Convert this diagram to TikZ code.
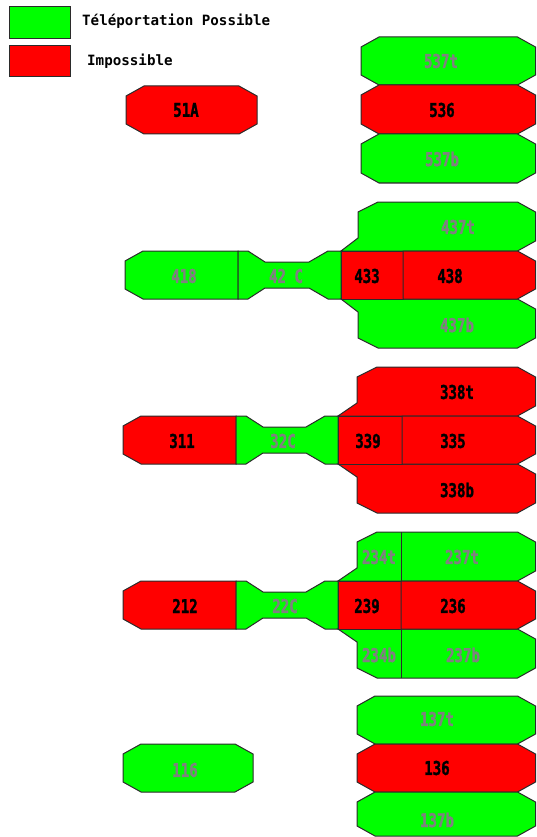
\documentclass[tikz,border=0pt]{standalone}
\usepackage{fontspec}
\newfontfamily\legfont{DejaVu Sans Mono}
\newfontfamily\lcdfont{DejaVu Sans Mono}[FakeStretch=0.74,BoldFeatures={FakeBold=1.5}]
\definecolor{gfill}{HTML}{00FF00}
\definecolor{rfill}{HTML}{FF0000}
\definecolor{edgec}{HTML}{2B2B2B}
\definecolor{gtext}{HTML}{808080}
\tikzset{
  gz/.style={fill=gfill,draw=edgec,line width=1pt},
  rz/.style={fill=rfill,draw=edgec,line width=1pt},
  lbl/.style={font=\lcdfont\bfseries\fontsize{19}{19}\selectfont,inner sep=0pt},
  gl/.style={lbl,text=gtext},
  rl/.style={lbl,text=black},
  leg/.style={font=\legfont\bfseries\fontsize{14.2}{14.2}\selectfont,anchor=base west,inner sep=0pt},
  divider/.style={draw=edgec,line width=1pt}
}
% octagon: style, x1, y1, x2, y2
\newcommand\octo[5]{\path[#1] (#2+18,#3) -- (#4-18,#3) -- (#4,#3+10) -- (#4,#5-10) -- (#4-18,#5) -- (#2+18,#5) -- (#2,#5-10) -- (#2,#3+10) -- cycle;}
% left block, square right side
\newcommand\lblock[5]{\path[#1] (#2+18,#3) -- (#4,#3) -- (#4,#5) -- (#2+18,#5) -- (#2,#5-10) -- (#2,#3+10) -- cycle;}
% right block, square left side
\newcommand\rblock[5]{\path[#1] (#2,#3) -- (#4-18,#3) -- (#4,#3+10) -- (#4,#5-10) -- (#4-18,#5) -- (#2,#5) -- cycle;}
% hourglass connector
\newcommand\hglass[5]{\path[#1] (#2,#3) -- (#2+10,#3) -- (#2+27,#3+11) -- (#4-32,#3+11) -- (#4-13,#3) -- (#4,#3) -- (#4,#5) -- (#4-13,#5) -- (#4-32,#5-11) -- (#2+27,#5-11) -- (#2+10,#5) -- (#2,#5) -- cycle;}
% top wing: style, xj, xl, ytop, ybottom, xr
\newcommand\wingtop[6]{\path[#1] (#3+20,#4) -- (#6-18,#4) -- (#6,#4+10) -- (#6,#5-10) -- (#6-18,#5) -- (#2,#5) -- (#3,#5-13) -- (#3,#4+10) -- cycle;}
% bottom wing
\newcommand\wingbot[6]{\path[#1] (#2,#4) -- (#6-18,#4) -- (#6,#4+10) -- (#6,#5-10) -- (#6-18,#5) -- (#3+20,#5) -- (#3,#5-10) -- (#3,#4+13) -- cycle;}
\begin{document}
\begin{tikzpicture}[x=1pt,y=-1pt]
\useasboundingbox (0,0) rectangle (536,837);
\fill[white] (0,0) rectangle (536,837);
% legend
\draw[gz] (9,7) rectangle (70,39);
\draw[rz] (9,46) rectangle (70,77);
\node[leg] (lg) at (82,26) {Téléportation Possible};
\node[leg] (lr) at (87,66) {Impossible};
% ---- row 5
\octo{rz}{126}{86}{257}{134}
\node[rl] (n51A) at (186,110) {51A};
\octo{gz}{361}{37}{535.5}{85}
\octo{rz}{361}{85}{535.5}{134}
\octo{gz}{361}{134}{535.5}{183}
\node[gl] (n537t) at (441,61) {537t};
\node[rl] (n536) at (442,110) {536};
\node[gl] (n537b) at (442,159) {537b};
% ---- row 4
\lblock{gz}{125}{251}{238}{299}
\hglass{gz}{238}{251}{341}{299}
\wingtop{gz}{341}{358}{202}{251}{535.5}
\wingbot{gz}{341}{358}{299}{348}{535.5}
\path[rz] (341,251) rectangle (403,299);
\rblock{rz}{403}{251}{535.5}{299}
\node[gl] (n418) at (184,276) {418};
\node[gl] (n42C) at (286,276) {42 C};
\node[rl] (n433) at (367,276) {433};
\node[rl] (n438) at (450,276) {438};
\node[gl] (n437t) at (458,227) {437t};
\node[gl] (n437b) at (457,325) {437b};
% ---- row 3
\lblock{rz}{123}{416}{236}{464}
\hglass{gz}{236}{416}{338}{464}
\wingtop{rz}{338}{357}{367}{416}{535.5}
\wingbot{rz}{338}{357}{464}{513}{535.5}
\path[rz] (338,416) rectangle (402,464);
\rblock{rz}{402}{416}{535.5}{464}
\node[rl] (n311) at (182,441) {311};
\node[gl] (n32C) at (283,441) {32C};
\node[rl] (n339) at (368,441) {339};
\node[rl] (n335) at (453,441) {335};
\node[rl] (n338t) at (457,392) {338t};
\node[rl] (n338b) at (457,490) {338b};
% ---- row 2
\lblock{rz}{123}{581}{236}{629}
\hglass{gz}{236}{581}{338}{629}
\wingtop{gz}{338}{357}{532}{581}{535.5}
\wingbot{gz}{338}{357}{629}{678}{535.5}
\draw[divider] (401,532) -- (401,581);
\draw[divider] (401,629) -- (401,678);
\path[rz] (338,581) rectangle (401,629);
\rblock{rz}{401}{581}{535.5}{629}
\node[rl] (n212) at (185,606) {212};
\node[gl] (n22C) at (285,606) {22C};
\node[rl] (n239) at (367,606) {239};
\node[rl] (n236) at (453,606) {236};
\node[gl] (n234t) at (379,557) {234t};
\node[gl] (n237t) at (462,557) {237t};
\node[gl] (n234b) at (379,655) {234b};
\node[gl] (n237b) at (463,655) {237b};
% ---- row 1
\octo{gz}{123}{744}{253}{792}
\node[gl] (n116) at (185,770) {116};
\octo{gz}{357}{696}{535.5}{744}
\octo{rz}{357}{744}{535.5}{792}
\octo{gz}{357}{792}{535.5}{836}
\node[gl] (n137t) at (437,719) {137t};
\node[rl] (n136) at (437,768) {136};
\node[gl] (n137b) at (437,820) {137b};
\end{tikzpicture}
\end{document}
